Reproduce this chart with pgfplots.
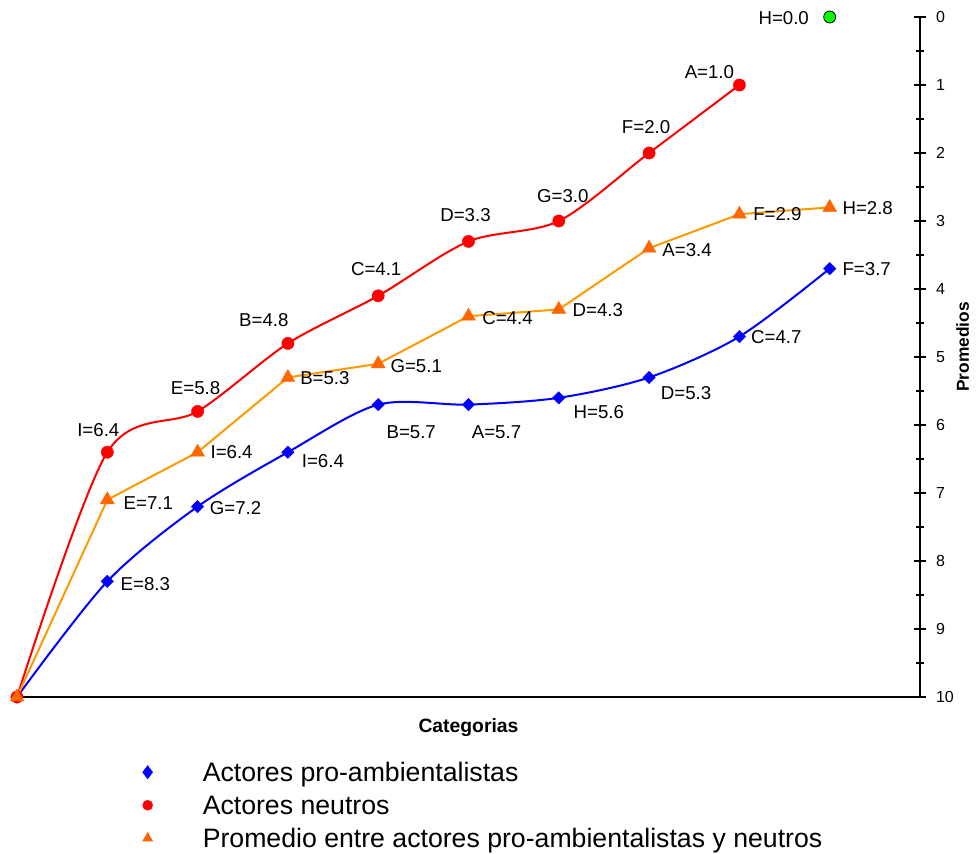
\documentclass[border=0pt]{standalone}
\usepackage{fontspec}
\setmainfont{Liberation Sans}
\usepackage{pgfplots}
\usepackage{pgfplotstable}
\pgfplotsset{compat=1.18}

\definecolor{proamb}{RGB}{0,0,255}
\definecolor{neutro}{RGB}{255,0,0}
\definecolor{promline}{RGB}{255,153,0}
\definecolor{prommark}{RGB}{255,102,0}
\definecolor{verde}{RGB}{0,255,0}

% x y label  label offset in px (dx right, dy up)
\pgfplotstableread{
x y lab dx dy
0 10 {} 0 0
1 8.3 E=8.3 38 -3
2 7.2 G=7.2 38 -1
3 6.4 I=6.4 35 -9
4 5.7 B=5.7 33 -28
5 5.7 A=5.7 28 -28
6 5.6 H=5.6 40 -14
7 5.3 D=5.3 37 -16
8 4.7 C=4.7 37 0
9 3.7 F=3.7 37 0
}\proambdata

\pgfplotstableread{
x y lab dx dy
0 10 {} 0 0
1 6.4 I=6.4 -9 22
2 5.8 E=5.8 -2 23
3 4.8 B=4.8 -24 23
4 4.1 C=4.1 -2 27
5 3.3 D=3.3 -3 26
6 3.0 G=3.0 4 25
7 2.0 F=2.0 -3 26
8 1.0 A=1.0 -30 13
}\neutrodata

\pgfplotstableread{
x y lab dx dy
0 10 {} 0 0
1 7.1 E=7.1 41 -3
2 6.4 I=6.4 34 0
3 5.3 B=5.3 37 -1
4 5.1 G=5.1 38 -2
5 4.4 C=4.4 39 -2
6 4.3 D=4.3 39 -1
7 3.4 A=3.4 38 -2
8 2.9 F=2.9 38 0
9 2.8 H=2.8 38 -1
}\promdata

\pgfplotstableread{
x y lab dx dy
9 0.0 H=0.0 -46 -1
}\hdata

\pgfplotsset{
  labelled/.style={
    nodes near coords,
    point meta=explicit symbolic,
    visualization depends on={\thisrow{dx}\as\labdx},
    visualization depends on={\thisrow{dy}\as\labdy},
    every node near coord/.append style={anchor=center,
      xshift=\labdx*0.75pt, yshift=\labdy*0.75pt,
      text=black, inner sep=0pt, font=\fontsize{14}{16}\selectfont},
  },
}

\begin{document}
\begin{tikzpicture}
\begin{axis}[
  name=ax,
  scale only axis, width=677.25pt, height=510pt,
  xmin=0, xmax=10, ymin=0, ymax=10, y dir=reverse,
  axis x line*=bottom, axis y line*=right,
  xtick=\empty,
  ytick={0,1,...,10}, minor y tick num=1,
  tick align=center, major tick length=9pt, minor tick length=6pt,
  axis line style={line width=1.5pt, black},
  every tick/.style={line width=1.5pt, black},
  /pgf/number format/assume math mode=true,
  tick label style={font=\fontsize{12}{14}\selectfont},
  yticklabel style={font=\fontsize{12}{14}\selectfont, xshift=4pt},
  clip=false,
  xlabel={Categorias},
  ylabel={Promedios},
  every axis x label/.style={at={(axis description cs:0.5,0)}, yshift=-23pt,
    anchor=center, font=\bfseries\fontsize{14.5}{17}\selectfont},
  every axis y label/.style={at={(axis description cs:1,0.515)}, xshift=32pt,
    rotate=90, anchor=center, font=\bfseries\fontsize{13}{15}\selectfont},
  legend cell align=left,
  legend style={at={(axis description cs:0,0)}, anchor=north west,
    xshift=94pt, yshift=-45.6pt, draw=none, fill=none, inner sep=0pt,
    row sep=0pt, font=\fontsize{20}{24}\selectfont,
    nodes={inner xsep=0pt, inner ysep=2.875pt, text height=14.5pt,
      text depth=4.5pt, anchor=west},
    /tikz/every odd column/.append style={column sep=37.5pt}},
]

\addplot[proamb, line width=1.5pt, smooth, mark=square*, mark size=3.3pt,
  mark options={rotate=45, solid, fill=proamb, draw=proamb, line width=0.3pt},
  labelled,
  legend image code/.code={\draw[proamb] plot[only marks, mark=diamond*,
    mark size=5pt, mark options={fill=proamb, draw=proamb, line width=0.3pt}]
    coordinates {(0pt,1.75pt)};}]
  table[x=x, y=y, meta=lab] {\proambdata};
\addlegendentry{Actores pro-ambientalistas}

\addplot[neutro, line width=1.5pt, smooth, mark=*, mark size=4.6pt,
  mark options={solid, fill=neutro, draw=neutro, line width=0.3pt},
  labelled,
  legend image code/.code={\draw[neutro] plot[only marks, mark=*,
    mark size=3.8pt, mark options={fill=neutro, draw=neutro, line width=0.3pt}]
    coordinates {(0pt,1.75pt)};}]
  table[x=x, y=y, meta=lab] {\neutrodata};
\addlegendentry{Actores neutros}

\addplot[promline, line width=1.5pt, mark=triangle*, mark size=6pt,
  mark options={solid, fill=prommark, draw=prommark, line width=0.3pt},
  labelled,
  legend image code/.code={\draw[prommark] plot[only marks, mark=triangle*,
    mark size=4.4pt, mark options={fill=prommark, draw=prommark, line width=0.3pt}]
    coordinates {(0pt,1.75pt)};}]
  table[x=x, y=y, meta=lab] {\promdata};
\addlegendentry{Promedio entre actores pro-ambientalistas y neutros}

\addplot[forget plot, only marks, mark=*, mark size=4.5pt,
  mark options={fill=verde, draw=black, line width=0.6pt},
  labelled]
  table[x=x, y=y, meta=lab] {\hdata};

\end{axis}
\pgfresetboundingbox
\path[use as bounding box] ([shift={(-12.75pt,-117.75pt)}]ax.south west)
  rectangle ([shift={(719.25pt,522.75pt)}]ax.south west);
\end{tikzpicture}
\end{document}
